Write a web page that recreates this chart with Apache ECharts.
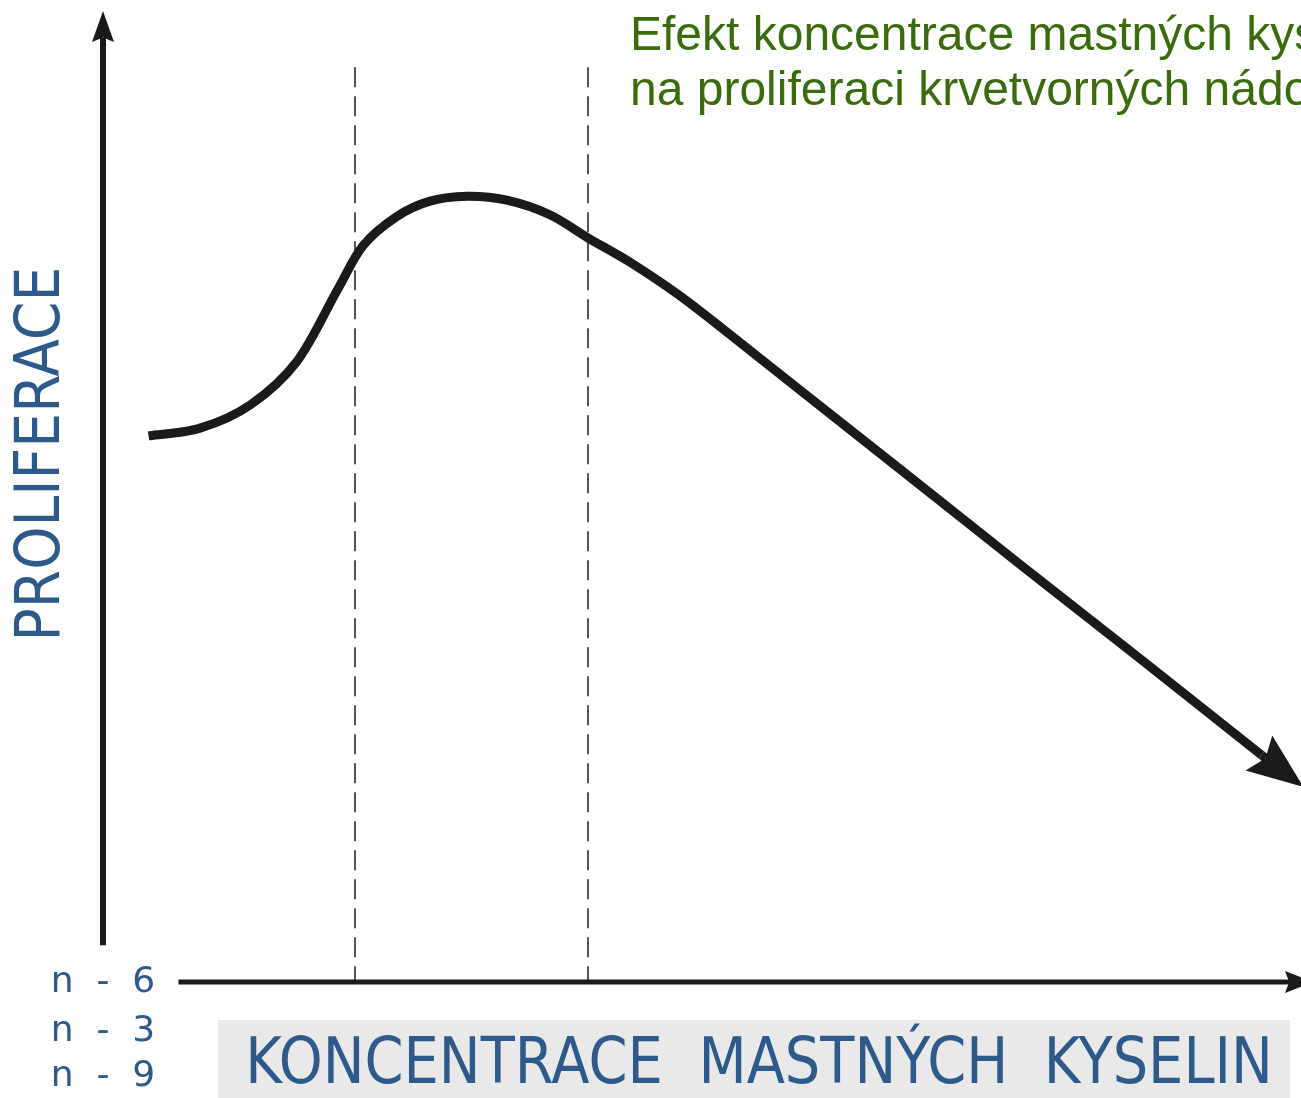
<!DOCTYPE html>
<html>
<head>
<meta charset="utf-8">
<script src="https://cdn.jsdelivr.net/npm/echarts@6/dist/echarts.min.js"></script>
<style>html,body{margin:0;padding:0;background:#fff}#c{width:1301px;height:1098px}</style>
</head>
<body>
<div id="c"></div>
<script>
// ---- data (abstract units: concentration 0..100, proliferation 0..100) ----
const titleText = 'Efekt koncentrace mastných kyselin\nna proliferaci krvetvorných nádorů';
const yAxisTitle = 'PROLIFERACE';
const xAxisTitle = 'KONCENTRACE  MASTNÝCH  KYSELIN';
const fattyAcidLabels = ['n  -  6', 'n  -  3', 'n  -  9'];

const concentration = [3.8, 8.1, 12.3, 16.2, 19.5, 21.7, 24.5, 27.3, 30.4, 33.7, 37.3, 40.5, 44.0, 48.2, 53.2, 58.2, 66.5, 76.5, 86.6, 96.7];
const proliferation = [56.3, 57.1, 59.5, 64.0, 71.2, 75.9, 78.9, 80.5, 81.0, 80.6, 79.1, 76.7, 74.2, 70.7, 65.9, 61.0, 52.9, 43.1, 33.3, 23.4];
const curveTip = [100.2, 20.1];

const thresholds = [21.0, 40.5];      // dashed vertical lines (concentration)
const thresholdTop = 94.3;

// arrows: [fromX, fromY, toX, toY]
const yAxisArrow = [0, 3.8, 0, 100.1];
const xAxisArrow = [6.3, 0, 101.0, 0];

const curveData = concentration.map((x, i) => [x, proliferation[i]]);
const curveArrow = curveData[curveData.length - 1].concat(curveTip);

const ink = '#1a1a1a';
const blue = '#2d5a8b';
const arrowStyles = [
  {width: 6, len: 31, head: 22, notch: 0.15},
  {width: 5, len: 28, head: 22, notch: 0.15},
  {width: 9, len: 56, head: 44, notch: 0.15}
];

function renderArrow(params, api) {
  const s = arrowStyles[params.dataIndex];
  const a = api.coord([api.value(0), api.value(1)]);
  const b = api.coord([api.value(2), api.value(3)]);
  const dx = b[0] - a[0], dy = b[1] - a[1], L = Math.hypot(dx, dy);
  const ux = dx / L, uy = dy / L, nx = -uy, ny = ux;
  const back = [b[0] - ux * s.len, b[1] - uy * s.len];
  const notch = [b[0] - ux * s.len * (1 - s.notch), b[1] - uy * s.len * (1 - s.notch)];
  return {
    type: 'group',
    children: [
      {type: 'line', shape: {x1: a[0], y1: a[1], x2: notch[0], y2: notch[1]},
       style: {stroke: ink, lineWidth: s.width, lineCap: 'butt', fill: null}},
      {type: 'polygon', shape: {points: [
        [b[0], b[1]],
        [back[0] + nx * s.head / 2, back[1] + ny * s.head / 2],
        notch,
        [back[0] - nx * s.head / 2, back[1] - ny * s.head / 2]
      ]}, style: {fill: ink, stroke: null}}
    ]
  };
}

// smooth curve through every data point (Catmull-Rom -> cubic Bezier), positions via the axes
function renderCurve(params, api) {
  if (params.dataIndex !== 0) return null;
  const n = curveData.length;
  const p = curveData.map(d => api.coord(d));
  let d = 'M' + p[0][0] + ' ' + p[0][1];
  for (let i = 0; i < n - 1; i++) {
    const p0 = p[Math.max(i - 1, 0)], p1 = p[i], p2 = p[i + 1];
    const p3 = i + 2 < n ? p[i + 2] : api.coord(curveTip);
    const c1 = [p1[0] + (p2[0] - p0[0]) / 6, p1[1] + (p2[1] - p0[1]) / 6];
    const c2 = [p2[0] - (p3[0] - p1[0]) / 6, p2[1] - (p3[1] - p1[1]) / 6];
    d += ' C' + c1[0] + ' ' + c1[1] + ' ' + c2[0] + ' ' + c2[1] + ' ' + p2[0] + ' ' + p2[1];
  }
  return {
    type: 'path',
    shape: {pathData: d},
    style: {stroke: ink, lineWidth: 9, fill: 'none', lineCap: 'butt', lineJoin: 'round'}
  };
}

const chart = echarts.init(document.getElementById('c'), null, {renderer: 'canvas'});
chart.setOption({
  animation: false,
  backgroundColor: '#ffffff',
  title: {
    text: titleText,
    left: 630, top: 9, padding: 0,
    textStyle: {fontFamily: 'Liberation Sans', fontSize: 48, fontWeight: 'normal', color: '#3a6b0c', lineHeight: 55}
  },
  grid: {left: 103, right: 0, top: 12, bottom: 116},
  xAxis: {type: 'value', min: 0, max: 100, show: false},
  yAxis: {type: 'value', min: 0, max: 100, show: false},
  series: [
    {
      type: 'lines', coordinateSystem: 'cartesian2d', clip: false, silent: true,
      lineStyle: {type: [20, 9], width: 2, color: '#555555', opacity: 1},
      symbol: 'none',
      data: thresholds.map(x => ({coords: [[x, thresholdTop], [x, 0]]}))
    },
    {
      type: 'custom', clip: false, silent: true,
      encode: {x: 0, y: 1},
      renderItem: renderCurve,
      data: curveData
    },
    {
      type: 'custom', clip: false, silent: true,
      encode: {x: [0, 2], y: [1, 3]},
      renderItem: renderArrow,
      data: [yAxisArrow, xAxisArrow, curveArrow]
    }
  ],
  graphic: [
    {type: 'text', x: 43, y: 454, rotation: Math.PI / 2, scaleX: 0.89, scaleY: 1,
     style: {text: yAxisTitle, fontFamily: 'DejaVu Sans', fontSize: 62, fill: blue, align: 'center', verticalAlign: 'middle'}},
    {type: 'rect', shape: {x: 218, y: 1020, width: 1072, height: 90}, style: {fill: '#e9e9e9'}},
    {type: 'text', x: 759, y: 1066, scaleX: 0.873, scaleY: 1,
     style: {text: xAxisTitle, fontFamily: 'DejaVu Sans', fontSize: 64, fill: blue, align: 'center', verticalAlign: 'middle'}},
    {type: 'text', x: 103, y: 983, style: {text: fattyAcidLabels[0], fontFamily: 'DejaVu Sans', fontSize: 36, fill: blue, align: 'center', verticalAlign: 'middle'}},
    {type: 'text', x: 103, y: 1032, style: {text: fattyAcidLabels[1], fontFamily: 'DejaVu Sans', fontSize: 36, fill: blue, align: 'center', verticalAlign: 'middle'}},
    {type: 'text', x: 103, y: 1077, style: {text: fattyAcidLabels[2], fontFamily: 'DejaVu Sans', fontSize: 36, fill: blue, align: 'center', verticalAlign: 'middle'}}
  ]
});
</script>
</body>
</html>
